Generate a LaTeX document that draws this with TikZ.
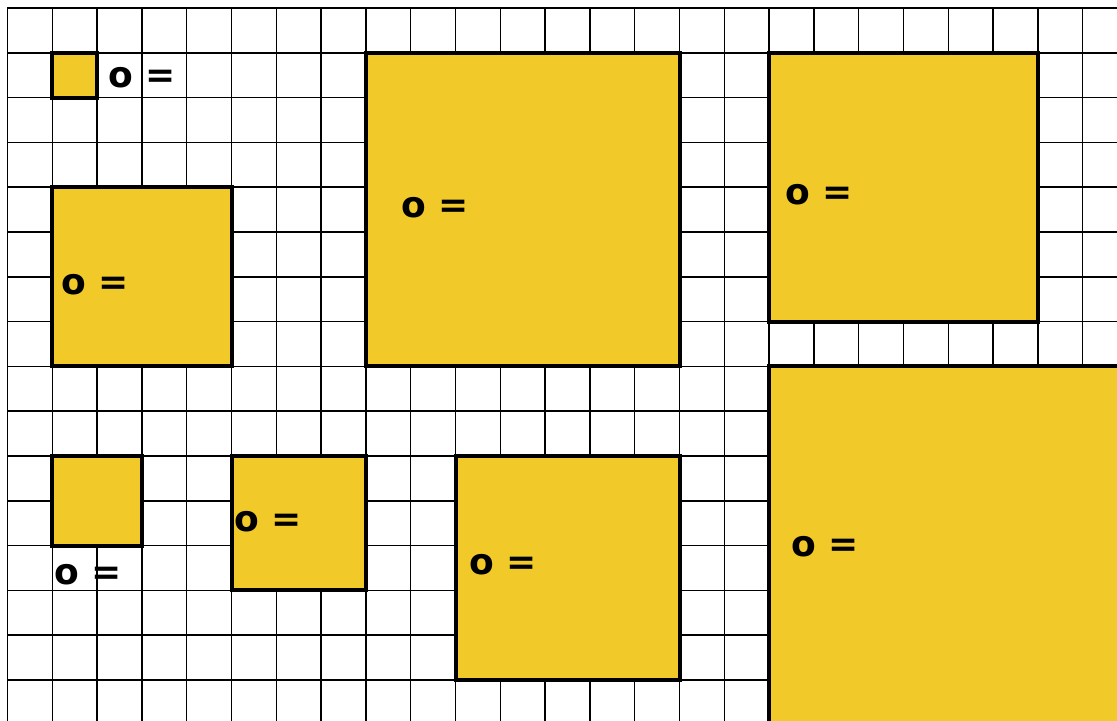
\documentclass[tikz,border=0pt]{standalone}
\usepackage{fontspec}
\setmainfont{DejaVu Sans}
\definecolor{boxyellow}{RGB}{241,202,42}
\tikzset{
  gridline/.style={line width=1.5pt, black},
  sqbox/.style={fill=boxyellow, draw=black, line width=4pt},
  lbl/.style={font=\fontsize{36}{40}\selectfont\bfseries, inner sep=0pt, anchor=center}
}
\begin{document}
\begin{tikzpicture}[x=44.8pt, y=-44.8pt]
\useasboundingbox (-0.1674,-0.1786) rectangle (24.766,15.893);
\clip (-0.1674,-0.1786) rectangle (24.766,15.893);
\fill[white] (-0.1674,-0.1786) rectangle (24.766,15.893);
\foreach \i in {0,...,24} \draw[gridline] (\i,0) -- (\i,16);
\foreach \j in {0,...,15} \draw[gridline] (0,\j) -- (25,\j);
% squares
\draw[sqbox] (1,1) rectangle (2,2);
\draw[sqbox] (1,4) rectangle (5,8);
\draw[sqbox] (8,1) rectangle (15,8);
\draw[sqbox] (17,1) rectangle (23,7);
\draw[sqbox] (17,8) rectangle (26,17);
\draw[sqbox] (1,10) rectangle (3,12);
\draw[sqbox] (5,10) rectangle (8,13);
\draw[sqbox] (10,10) rectangle (15,15);
% labels
\node[lbl] (t1) at (3.0,1.56) {o =};
\node[lbl] (t2) at (1.95,6.18) {o =};
\node[lbl] (t3) at (9.54,4.46) {o =};
\node[lbl] (t4) at (18.11,4.17) {o =};
\node[lbl] (t5) at (18.25,12.03) {o =};
\node[lbl] (t6) at (1.80,12.66) {o =};
\node[lbl] (t7) at (5.81,11.47) {o =};
\node[lbl] (t8) at (11.06,12.43) {o =};
\end{tikzpicture}
\end{document}
